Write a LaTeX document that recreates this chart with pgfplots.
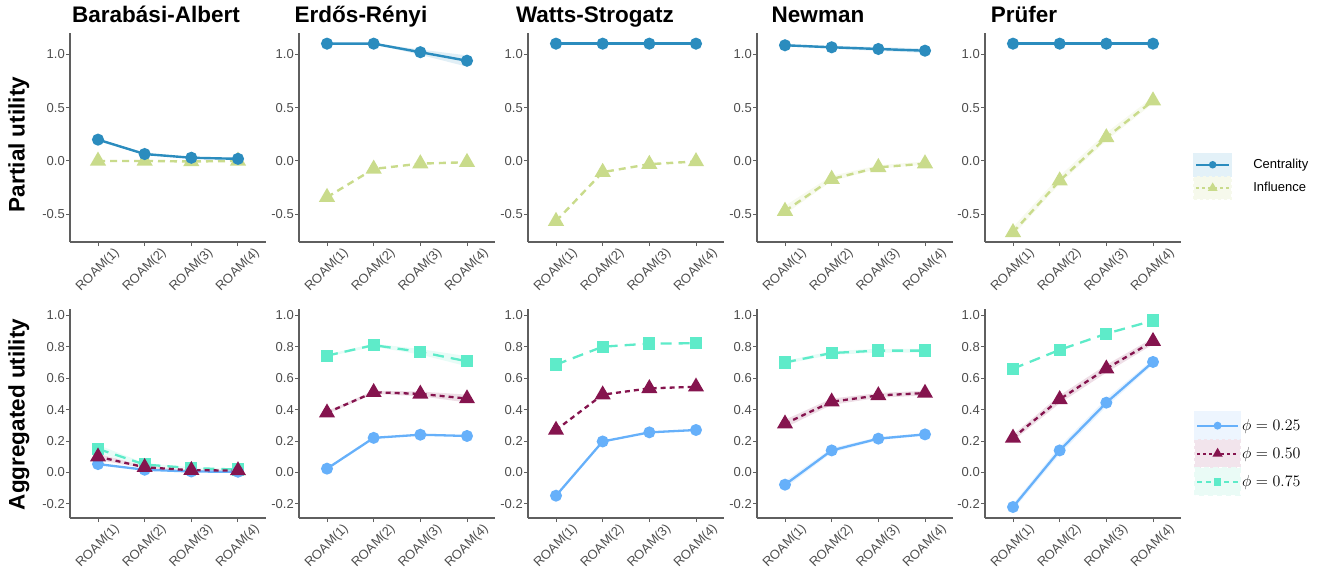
\RequirePackage{fix-cm}
\documentclass[border=0pt]{standalone}
\usepackage{pgfplots}
\pgfplotsset{compat=1.18}
\usepackage{fontspec}
\setmainfont{Liberation Sans}

\definecolor{cent}{HTML}{2B8CBE}
\definecolor{infl}{HTML}{C9DB8B}
\definecolor{pa}{HTML}{66B0FA}
\definecolor{pb}{HTML}{85144E}
\definecolor{pc}{HTML}{5EEBC9}
\definecolor{centbg}{HTML}{E3F1F8}
\definecolor{inflbg}{HTML}{F6F9EC}
\definecolor{pabg}{HTML}{EDF5FE}
\definecolor{pbbg}{HTML}{F2E4EC}
\definecolor{pcbg}{HTML}{EAFBF6}
\definecolor{axgray}{HTML}{5F5F5F}
\definecolor{tickgray}{HTML}{4D4D4D}

\pgfplotsset{
  panel/.style={
    scale only axis, width=196pt, height=209pt,
    xmin=0.4, xmax=4.6, xtick={1,2,3,4},
    xticklabels={ROAM(1),ROAM(2),ROAM(3),ROAM(4)},
    axis x line*=bottom, axis y line*=left,
    axis line style={draw=axgray, line width=1.3pt, -},
    major tick length=4pt, tick align=outside,
    tick style={draw=axgray, line width=1pt},
    every tick label/.append style={font=\fontsize{13}{13}\selectfont, text=tickgray},
    xticklabel style={yshift=-24pt, rotate=45, anchor=center},
    yticklabel style={anchor=east, inner sep=1pt},
    /pgf/number format/assume math mode=true,
    y tick label style={/pgf/number format/.cd, fixed, fixed zerofill, precision=1},
  },
  toprow/.style={panel, ymin=-0.76, ymax=1.2, ytick={-0.5,0,0.5,1}},
  botrow/.style={panel, ymin=-0.29, ymax=1.04, ytick={-0.2,0,0.2,0.4,0.6,0.8,1}},
  cst/.style={cent, solid, line width=2.4pt, mark=*, mark size=4.8pt, mark options={solid, draw=none, fill=cent}},
  ist/.style={infl, dash pattern=on 7pt off 5pt, line width=2.4pt, mark=triangle*, mark size=7pt, mark options={solid, draw=none, fill=infl}},
  ast/.style={pa, solid, line width=2.3pt, mark=*, mark size=4.8pt, mark options={solid, draw=none, fill=pa}},
  bst/.style={pb, dash pattern=on 5pt off 4pt, line width=2.3pt, mark=triangle*, mark size=7pt, mark options={solid, draw=none, fill=pb}},
  qst/.style={pc, dash pattern=on 11pt off 7pt, line width=2.3pt, mark=square*, mark size=5pt, mark options={solid, draw=none, fill=pc}},
  rib/.style={draw=none, fill=#1, fill opacity=0.14, forget plot},
  topkey/.style 2 args={legend image code/.code={%
      \fill[#1] (0pt,-10.8pt) rectangle (37pt,10.8pt);
      \path (58pt,0pt);
      \draw[##1, line width=1.8pt, mark size=#2, mark repeat=2, mark phase=2] plot coordinates {(2pt,0pt)(18.5pt,0pt)(35pt,0pt)};}},
  botkey/.style 2 args={legend image code/.code={%
      \fill[#1] (0pt,-13.5pt) rectangle (45pt,13.5pt);
      \path (46pt,0pt);
      \draw[##1, line width=1.8pt, mark size=#2, mark repeat=2, mark phase=2] plot coordinates {(2pt,0pt)(22.5pt,0pt)(43pt,0pt)};}},
}

\begin{document}
\begin{tikzpicture}
\useasboundingbox (0pt,0pt) rectangle (1326pt,-575pt);

% ---------------- top row: partial utility ----------------
\begin{axis}[toprow, at={(70pt,-242pt)}, anchor=south west]
\addplot[rib=cent] coordinates {(1,0.21)(2,0.075)(3,0.037)(4,0.026)(4,0.014)(3,0.023)(2,0.055)(1,0.19)} --cycle;
\addplot[ist] coordinates {(1,0.0)(2,0.0)(3,-0.005)(4,0.0)};
\addplot[cst] coordinates {(1,0.20)(2,0.065)(3,0.03)(4,0.02)};
\end{axis}

\begin{axis}[toprow, at={(299pt,-242pt)}, anchor=south west]
\addplot[rib=cent] coordinates {(1,1.10)(2,1.105)(3,1.045)(4,0.99)(4,0.885)(3,0.995)(2,1.095)(1,1.10)} --cycle;
\addplot[ist] coordinates {(1,-0.34)(2,-0.075)(3,-0.025)(4,-0.012)};
\addplot[cst] coordinates {(1,1.10)(2,1.10)(3,1.02)(4,0.94)};
\end{axis}

\begin{axis}[toprow, at={(528pt,-242pt)}, anchor=south west]
\addplot[ist] coordinates {(1,-0.565)(2,-0.105)(3,-0.03)(4,-0.005)};
\addplot[cst] coordinates {(1,1.10)(2,1.10)(3,1.10)(4,1.10)};
\end{axis}

\begin{axis}[toprow, at={(757pt,-242pt)}, anchor=south west]
\addplot[rib=cent] coordinates {(1,1.095)(2,1.08)(3,1.068)(4,1.055)(4,1.013)(3,1.032)(2,1.052)(1,1.075)} --cycle;
\addplot[rib=infl] coordinates {(1,-0.42)(2,-0.14)(3,-0.04)(4,-0.005)(4,-0.035)(3,-0.072)(2,-0.19)(1,-0.50)} --cycle;
\addplot[ist] coordinates {(1,-0.47)(2,-0.17)(3,-0.06)(4,-0.025)};
\addplot[cst] coordinates {(1,1.085)(2,1.066)(3,1.05)(4,1.034)};
\end{axis}

\begin{axis}[toprow, at={(985pt,-242pt)}, anchor=south west,
  legend style={at={(axis description cs:1.061,0.427)}, anchor=north west,
    draw=none, fill=none, inner sep=0pt, outer sep=0pt, row sep=-0.8pt,
    font=\fontsize{13}{13}\selectfont, nodes={inner sep=0pt, text=black}},
  legend cell align=left]
\addplot[rib=infl] coordinates {(1,-0.62)(2,-0.14)(3,0.265)(4,0.60)(4,0.54)(3,0.19)(2,-0.215)(1,-0.70)} --cycle;
\addplot[ist, forget plot] coordinates {(1,-0.67)(2,-0.185)(3,0.22)(4,0.565)};
\addplot[cst, forget plot] coordinates {(1,1.10)(2,1.10)(3,1.10)(4,1.10)};
\addlegendimage{cst, topkey={centbg}{2.8pt}}
\addlegendentry{Centrality}
\addlegendimage{ist, dash pattern=on 3pt off 3pt, topkey={inflbg}{3.8pt}}
\addlegendentry{Influence}
\end{axis}

% ---------------- bottom row: aggregated utility ----------------
\begin{axis}[botrow, at={(70pt,-518pt)}, anchor=south west]
\addplot[rib=pc] coordinates {(1,0.175)(2,0.06)(3,0.033)(4,0.022)(4,0.014)(3,0.023)(2,0.04)(1,0.125)} --cycle;
\addplot[rib=pb] coordinates {(1,0.12)(2,0.04)(3,0.018)(4,0.016)(4,0.008)(3,0.01)(2,0.026)(1,0.08)} --cycle;
\addplot[qst] coordinates {(1,0.15)(2,0.05)(3,0.028)(4,0.018)};
\addplot[ast] coordinates {(1,0.053)(2,0.017)(3,0.006)(4,0.004)};
\addplot[bst] coordinates {(1,0.10)(2,0.033)(3,0.014)(4,0.012)};
\end{axis}

\begin{axis}[botrow, at={(299pt,-518pt)}, anchor=south west]
\addplot[rib=pc] coordinates {(1,0.75)(2,0.82)(3,0.785)(4,0.74)(4,0.675)(3,0.75)(2,0.80)(1,0.736)} --cycle;
\addplot[rib=pb] coordinates {(1,0.39)(2,0.52)(3,0.515)(4,0.495)(4,0.445)(3,0.485)(2,0.50)(1,0.37)} --cycle;
\addplot[qst] coordinates {(1,0.743)(2,0.81)(3,0.767)(4,0.707)};
\addplot[ast] coordinates {(1,0.024)(2,0.22)(3,0.24)(4,0.232)};
\addplot[bst] coordinates {(1,0.38)(2,0.51)(3,0.50)(4,0.47)};
\end{axis}

\begin{axis}[botrow, at={(528pt,-518pt)}, anchor=south west]
\addplot[qst] coordinates {(1,0.686)(2,0.80)(3,0.82)(4,0.822)};
\addplot[ast] coordinates {(1,-0.148)(2,0.197)(3,0.255)(4,0.27)};
\addplot[bst] coordinates {(1,0.27)(2,0.495)(3,0.535)(4,0.545)};
\end{axis}

\begin{axis}[botrow, at={(757pt,-518pt)}, anchor=south west]
\addplot[rib=pc] coordinates {(1,0.71)(2,0.772)(3,0.787)(4,0.787)(4,0.763)(3,0.763)(2,0.748)(1,0.69)} --cycle;
\addplot[rib=pb] coordinates {(1,0.335)(2,0.47)(3,0.505)(4,0.52)(4,0.49)(3,0.475)(2,0.43)(1,0.285)} --cycle;
\addplot[rib=pa] coordinates {(1,-0.055)(2,0.155)(3,0.225)(4,0.25)(4,0.234)(3,0.205)(2,0.125)(1,-0.10)} --cycle;
\addplot[qst] coordinates {(1,0.70)(2,0.76)(3,0.775)(4,0.775)};
\addplot[ast] coordinates {(1,-0.078)(2,0.14)(3,0.215)(4,0.242)};
\addplot[bst] coordinates {(1,0.31)(2,0.45)(3,0.49)(4,0.505)};
\end{axis}

\begin{axis}[botrow, at={(985pt,-518pt)}, anchor=south west,
  legend style={at={(axis description cs:1.066,0.512)}, anchor=north west,
    draw=none, fill=none, inner sep=0pt, outer sep=0pt, row sep=-1.2pt,
    font=\fontsize{16}{16}\selectfont, nodes={inner sep=0pt, text=black}},
  legend cell align=left]
\addplot[rib=pb] coordinates {(1,0.24)(2,0.49)(3,0.685)(4,0.855)(4,0.815)(3,0.635)(2,0.44)(1,0.20)} --cycle;
\addplot[rib=pa] coordinates {(1,-0.20)(2,0.165)(3,0.47)(4,0.72)(4,0.686)(3,0.418)(2,0.115)(1,-0.24)} --cycle;
\addplot[qst, forget plot] coordinates {(1,0.66)(2,0.78)(3,0.883)(4,0.966)};
\addplot[ast, forget plot] coordinates {(1,-0.22)(2,0.14)(3,0.444)(4,0.703)};
\addplot[bst, forget plot] coordinates {(1,0.22)(2,0.465)(3,0.66)(4,0.835)};
\addlegendimage{ast, botkey={pabg}{3pt}}
\addlegendentry{$\phi = 0.25$}
\addlegendimage{bst, dash pattern=on 3pt off 3pt, botkey={pbbg}{4.2pt}}
\addlegendentry{$\phi = 0.50$}
\addlegendimage{qst, dash pattern=on 5pt off 4pt, botkey={pcbg}{3pt}}
\addlegendentry{$\phi = 0.75$}
\end{axis}

% ---------------- titles and row labels ----------------
\begin{scope}[every node/.style={anchor=base, font=\bfseries\fontsize{22.5}{22.5}\selectfont}]
\node at (156pt,-23pt) {Barabási-Albert};
\node at (361pt,-23pt) {Erdős-Rényi};
\node at (595pt,-23pt) {Watts-Strogatz};
\node at (818pt,-23pt) {Newman};
\node at (1024pt,-23pt) {Prüfer};
\node[rotate=90] at (24.5pt,-144.5pt) {Partial utility};
\node[rotate=90] at (24.5pt,-414.5pt) {Aggregated utility};
\end{scope}
\end{tikzpicture}
\end{document}
